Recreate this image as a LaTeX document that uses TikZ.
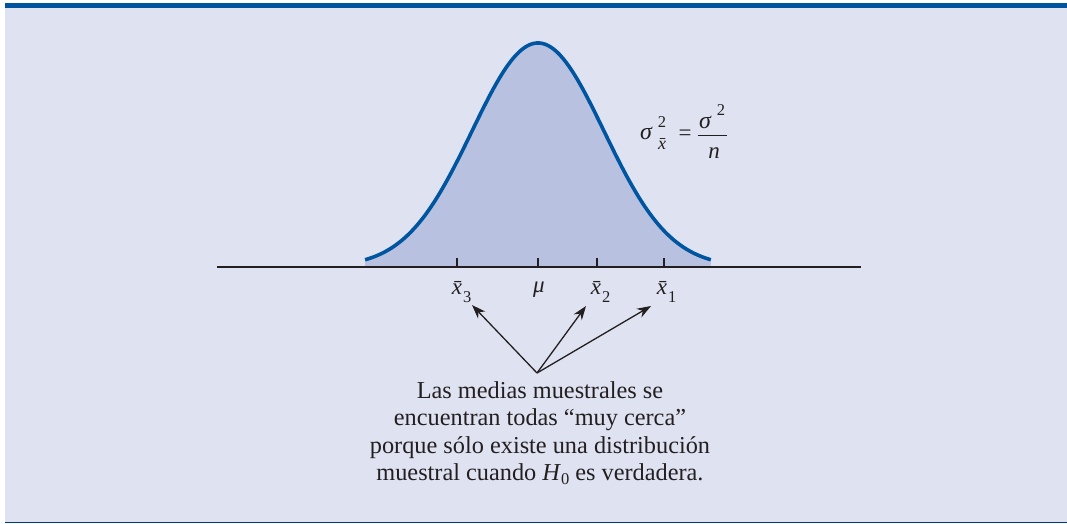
\documentclass[tikz,border=0pt]{standalone}
\usepackage{fontspec}
\setmainfont{Liberation Serif}
\usetikzlibrary{arrows.meta}
\definecolor{bgc}{HTML}{DFE3F1}
\definecolor{barc}{HTML}{00539F}
\definecolor{fillc}{HTML}{B8C2E0}
\definecolor{curvec}{HTML}{0055A0}
\definecolor{inkc}{HTML}{231F20}
\tikzset{
  lbl/.style={inner sep=0pt, text=inkc, font=\fontsize{23}{26}\selectfont\itshape},
  sub/.style={inner sep=0pt, text=inkc, font=\fontsize{16.5}{18}\selectfont},
  tickmark/.style={draw=inkc, line width=1.4pt},
  pointer/.style={draw=inkc, line width=1.3pt, -{Stealth[length=14pt,width=10pt]}},
}
\begin{document}
\begin{tikzpicture}[x=1pt,y=-1pt]
\useasboundingbox (0,0) rectangle (1067,524);
% background
\fill[bgc] (5,8) rectangle (1067,522);
\fill[barc] (5,3) rectangle (1067,8.5);
\fill[barc!70!black] (5,521.5) rectangle (1067,523);
% curve fill
\fill[fillc] (365,267) -- plot[domain=-2.62:2.62, samples=120] ({538+66*\x},{267-224*exp(-\x*\x/2)}) -- (711,267) -- cycle;
% axis
\draw[inkc, line width=1.6pt] (217,267) coordinate (axl) -- (861,267) coordinate (axr);
% curve
\draw[curvec, line width=3.6pt] plot[domain=-2.62:2.62, samples=120] ({538+66*\x},{267-224*exp(-\x*\x/2)});
% ticks
\foreach \n/\xx in {t3/457, tm/538, t2/597, t1/664}{
  \draw[tickmark] (\xx,258) coordinate (\n) -- (\xx,267);
}
% tick labels
\node[lbl] (x3) at (457,288) {\=x};
\node[sub, anchor=west] (x3s) at (463,297) {3};
\node[lbl] (mu) at (539,290) {μ};
\node[lbl] (x2) at (596,288) {\=x};
\node[sub, anchor=west] (x2s) at (602,297) {2};
\node[lbl] (x1) at (662,288) {\=x};
\node[sub, anchor=west] (x1s) at (668,297) {1};
% formula
\node[lbl, font=\fontsize{24}{26}\selectfont\itshape] (s1) at (646,133) {σ};
\node[sub] (s1sup) at (662,122) {2};
\node[sub, font=\fontsize{18}{20}\selectfont\itshape] (s1sub) at (662,144) {\=x};
\node[lbl, font=\fontsize{23}{26}\selectfont] (eq) at (685,135) {=};
\node[lbl, font=\fontsize{24}{26}\selectfont\itshape] (s2) at (705,122) {σ};
\node[sub] (s2sup) at (721,110) {2};
\draw[inkc, line width=0.9pt] (698,135) coordinate (fbl) -- (727,135) coordinate (fbr);
\node[lbl] (nn) at (714,153) {n};
% arrows
\coordinate (src) at (537,373);
\coordinate (a3) at (472,305);
\coordinate (a2) at (586,306);
\coordinate (a1) at (651,306);
\draw[pointer] (src) -- (a3);
\draw[pointer] (src) -- (a2);
\draw[pointer] (src) -- (a1);
% text
\node[inner sep=0pt, text=inkc, align=center, font=\fontsize{24.3}{27.6}\selectfont, anchor=north] (note) at (540,381)
{Las medias muestrales se\\
encuentran todas “muy cerca”\\
porque sólo existe una distribución\\
muestral cuando \textit{H}\raisebox{-0.35ex}{\fontsize{16.5}{18}\selectfont 0} es verdadera.};
\end{tikzpicture}
\end{document}
